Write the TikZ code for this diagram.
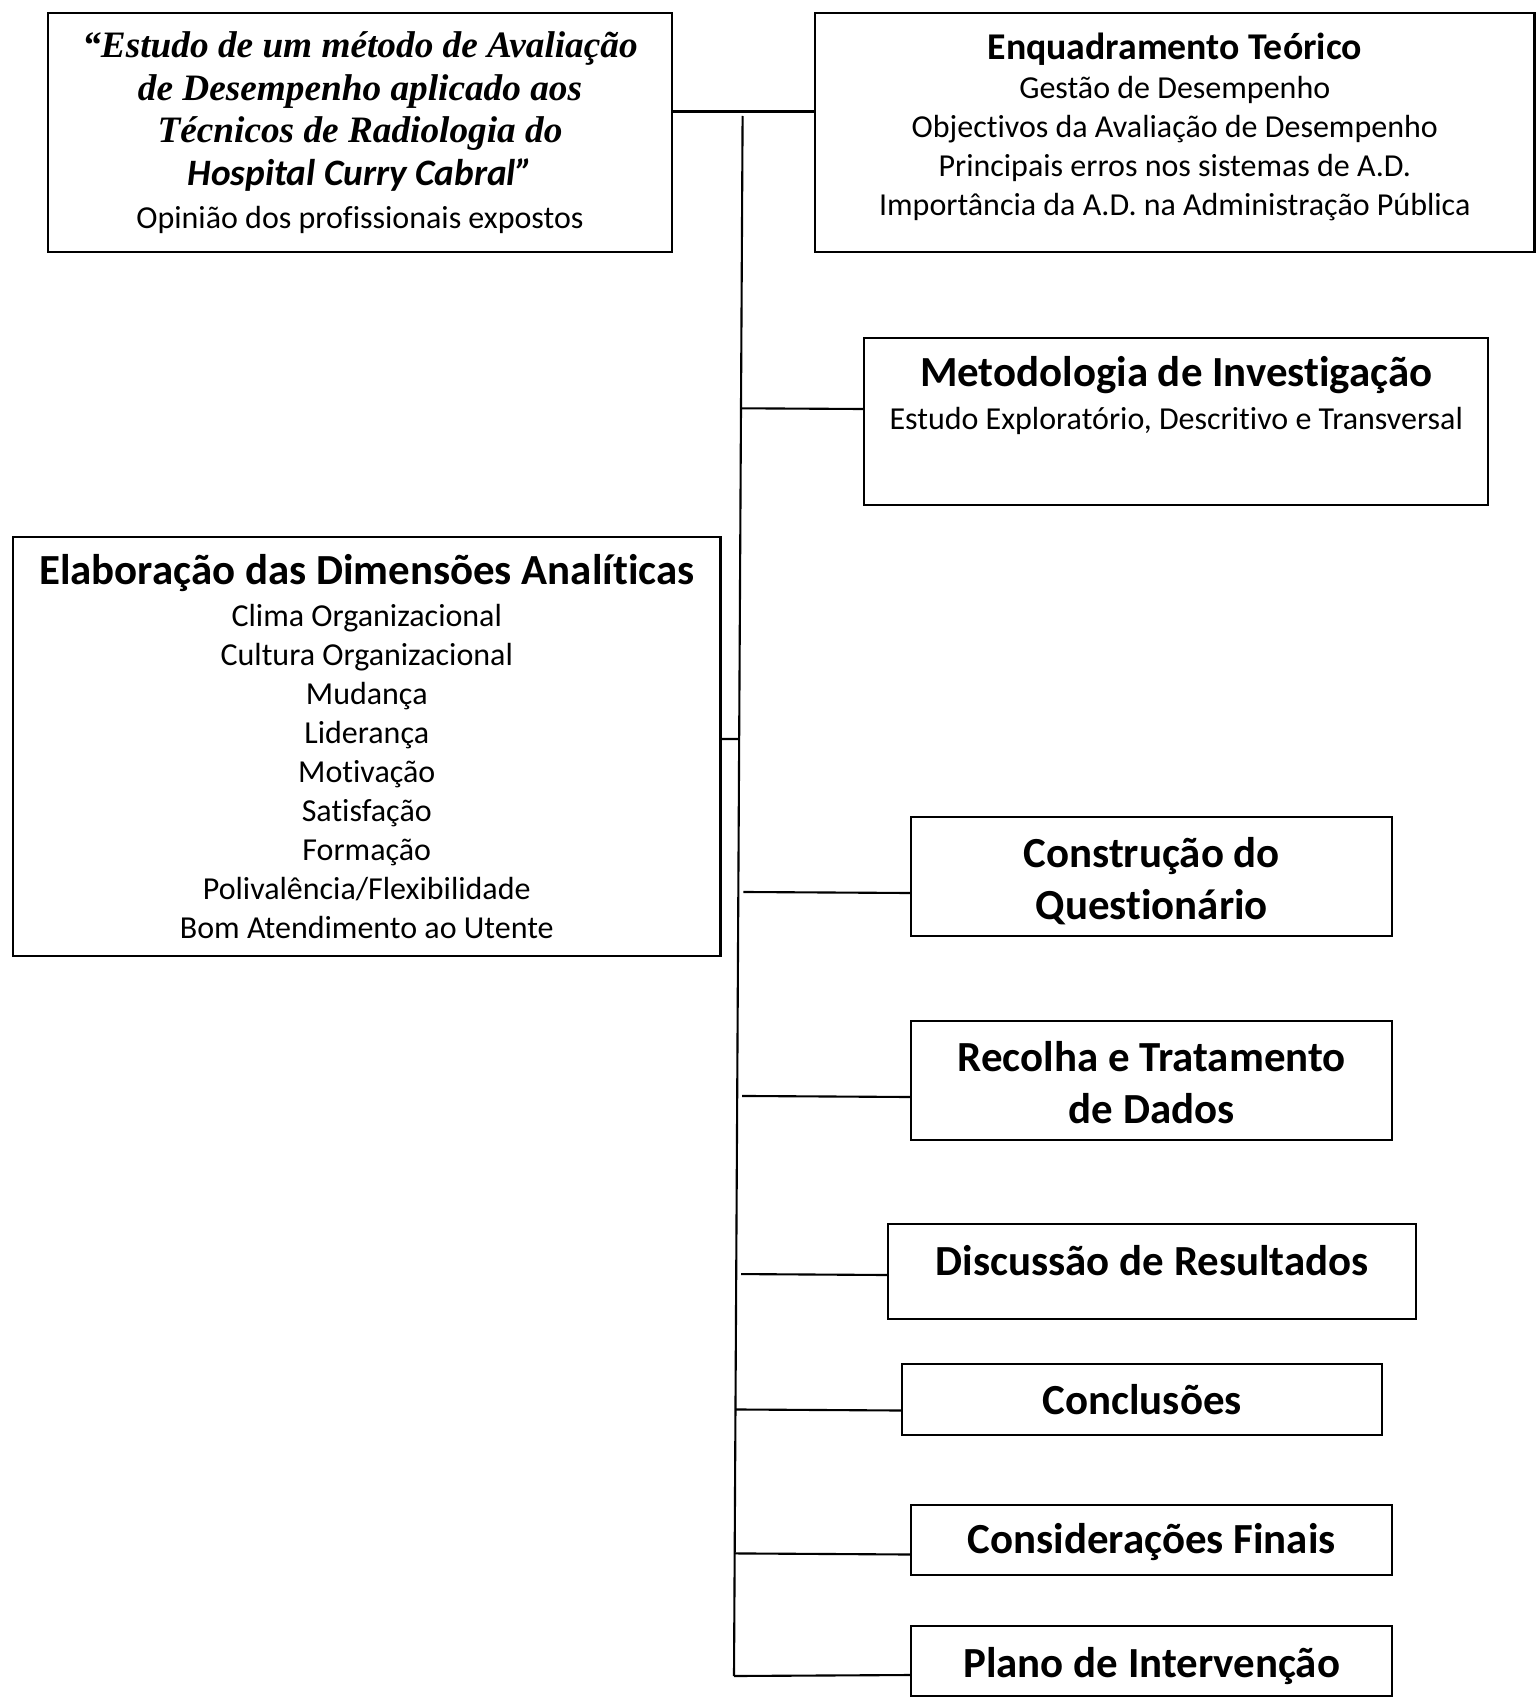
\documentclass[tikz,border=0pt]{standalone}
\usepackage{fontspec}
\setmainfont{Carlito}[Ligatures=NoCommon]
\newfontfamily\timesfont{Liberation Serif}
\usetikzlibrary{calc}
\tikzset{
  box/.style={draw, line width=0.6pt, inner sep=0pt, anchor=north west, align=center},
  link/.style={line width=0.6pt}
}
\newcommand{\txt}{\fontsize{9.1}{11.1}\selectfont}
\newcommand{\hd}{\fontsize{12.2}{14.8}\selectfont\bfseries}
\begin{document}
\begin{tikzpicture}[x=0.01cm,y=-0.01cm]
        \useasboundingbox (0,0) rectangle (1535,1697);
        %% title and theory
        \node[box, minimum width=6.245cm, minimum height=2.39cm, font=\fontsize{10.6}{12.2}\selectfont] (tit) at (46.5,12)
          {\timesfont\bfseries\itshape “Estudo de um método de Avaliação\\
           \timesfont\bfseries\itshape de Desempenho aplicado aos\\
           \timesfont\bfseries\itshape Técnicos de Radiologia do\\
           \bfseries\itshape Hospital Curry Cabral”\\
           \txt Opinião dos profissionais expostos};
        \node[box, minimum width=7.19cm, minimum height=2.39cm, font=\txt, text height=53pt, text depth=5.6pt] (enq) at (814,12)
          {\fontsize{10.75}{11.7}\selectfont\bfseries Enquadramento Teórico\\[0.2pt]
           Gestão de Desempenho\\
           Objectivos da Avaliação de Desempenho\\
           Principais erros nos sistemas de A.D.\\
           Importância da A.D. na Administração Pública};
        \draw[link] (tit.east |- 0,111.5) -- (enq.west |- 0,111.5);
        %% trunk
        \coordinate (ttop) at (742.6,116);
        \coordinate (tbot) at (734,1676);
        \draw[link] (ttop) -- (tbot);
        %% steps
        \node[box, minimum width=6.24cm, minimum height=1.67cm, font=\txt, text height=21pt, text depth=16.6pt] (met) at (863,337)
          {\hd Metodologia de Investigação\\[1.1pt]
           Estudo Exploratório, Descritivo e Transversal};
        \node[box, minimum width=7.07cm, minimum height=4.19cm, font=\txt] (ela) at (12,536)
          {\hd Elaboração das Dimensões Analíticas\\[0.9pt]
           Clima Organizacional\\
           Cultura Organizacional\\
           Mudança\\
           Liderança\\
           Motivação\\
           Satisfação\\
           Formação\\
           Polivalência/Flexibilidade\\
           Bom Atendimento ao Utente};
        \node[box, minimum width=4.81cm, minimum height=1.19cm, font=\hd, text height=26pt, text depth=1.5pt] (con) at (910,816)
          {Construção do\\ Questionário};
        \node[box, minimum width=4.81cm, minimum height=1.19cm, font=\hd, text height=26pt, text depth=1.5pt] (rec) at (910,1020)
          {Recolha e Tratamento\\ de Dados};
        \node[box, minimum width=5.28cm, minimum height=0.95cm, font=\hd, text height=9pt, text depth=7pt] (dis) at (887,1223)
          {Discussão de Resultados};
        \node[box, minimum width=4.80cm, minimum height=0.71cm, font=\hd] (cnc) at (901,1363)
          {Conclusões};
        \node[box, minimum width=4.81cm, minimum height=0.70cm, font=\hd, text height=9.5pt, text depth=2pt] (cns) at (910,1504)
          {Considerações Finais};
        \node[box, minimum width=4.81cm, minimum height=0.70cm, font=\hd, text height=10pt, text depth=0.5pt] (pla) at (910,1625)
          {Plano de Intervenção};
        %% branches
        \coordinate (bmet) at (met.west |- 0,409);
        \coordinate (bela) at (ela.east |- 0,739);
        \coordinate (bcon) at (con.west |- 0,893);
        \coordinate (brec) at (rec.west |- 0,1097);
        \coordinate (bdis) at (dis.west |- 0,1275);
        \coordinate (bcnc) at (cnc.west |- 0,1410.5);
        \coordinate (bcns) at (cns.west |- 0,1554.5);
        \coordinate (bpla) at (pla.west |- 0,1675);
        \draw[link] (bmet) -- ($(ttop)!(bmet)!(tbot)$);
        \draw[link] (bela) -- ($(ttop)!(bela)!(tbot)$);
        \draw[link] (bcon) -- ($(ttop)!(bcon)!(tbot) + (5,0)$);
        \draw[link] (brec) -- ($(ttop)!(brec)!(tbot) + (5,0)$);
        \draw[link] (bdis) -- ($(ttop)!(bdis)!(tbot) + (5,0)$);
        \draw[link] (bcnc) -- ($(ttop)!(bcnc)!(tbot)$);
        \draw[link] (bcns) -- ($(ttop)!(bcns)!(tbot)$);
        \draw[link] (bpla) -- (tbot);
\end{tikzpicture}
\end{document}
